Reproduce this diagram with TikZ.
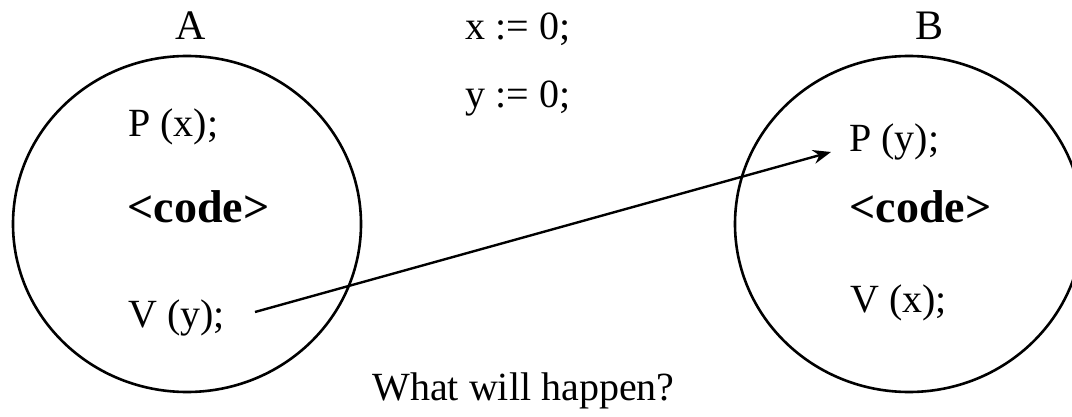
\documentclass[tikz,border=0pt]{standalone}
\usepackage{fontspec}
\setmainfont{Liberation Serif}
\usetikzlibrary{arrows.meta,shapes.geometric}
\begin{document}
\begin{tikzpicture}[x=0.5pt,y=-0.5pt,
  proc/.style={draw,ellipse,line width=1.3pt,minimum width=174pt,minimum height=168pt,inner sep=0},
  txt/.style={anchor=base west,inner sep=0,font=\fontsize{20}{24}\selectfont},
  codetxt/.style={anchor=base west,inner sep=0,font=\fontsize{23}{27}\selectfont\bfseries},
  ttl/.style={anchor=base,inner sep=0,font=\fontsize{21}{25}\selectfont},
  conn/.style={line width=1.2pt,-{Stealth[length=9pt,width=7pt,inset=3pt]}}]
\useasboundingbox (0,0) rectangle (1072,417);
\clip (0,0) rectangle (1072,417);
\node[proc] (procA) at (187,224) {};
\node[proc] (procB) at (909,224) {};
\node[ttl] (labA) at (191,40) {A};
\node[ttl] (labB) at (929,40) {B};
\node[txt] (initx) at (465,40) {x := 0;};
\node[txt] (inity) at (465,108) {y := 0;};
\node[txt] (px) at (128,137) {P (x);};
\node[codetxt] (codeA) at (127,222) {<code>};
\node[txt] (vy) at (128,328) {V (y);};
\node[txt] (py) at (849,152) {P (y);};
\node[codetxt] (codeB) at (849,222) {<code>};
\node[txt] (vx) at (850,312) {V (x);};
\node[txt] (question) at (372,400) {What will happen?};
\coordinate (arrS) at (255,312);
\coordinate (arrE) at (831,152);
\draw[conn] (arrS) -- (arrE);
\end{tikzpicture}
\end{document}
